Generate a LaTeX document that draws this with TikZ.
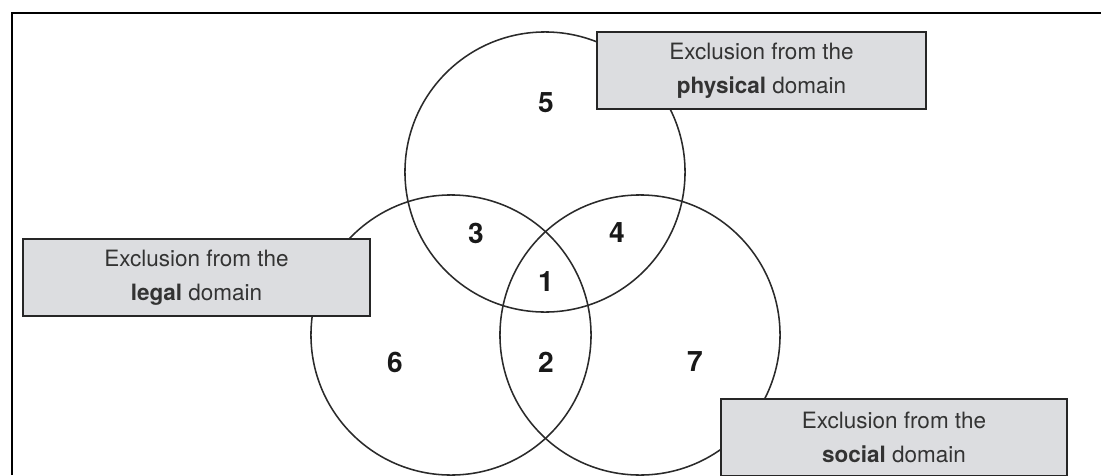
\documentclass[tikz,border=0pt]{standalone}
\usepackage{fontspec}
\setmainfont{TeX Gyre Heros}
\usepackage{tikz}
\definecolor{boxgray}{HTML}{DCDDE0}
\definecolor{inkgray}{HTML}{2A2A2A}

\begin{document}
\begin{tikzpicture}[x=0.025cm,y=-0.025cm,
                    domain circle/.style={circle,draw=inkgray,line width=1.1pt,minimum size=7cm,inner sep=0pt},
                    region/.style={font=\fontsize{20}{20}\selectfont\bfseries,text=black!90},
                    domain box/.style={rectangle,draw=black!85,line width=1.5pt,fill=boxgray,align=center,
                      minimum height=1.925cm,inner sep=0pt,text=black!80,font=\fontsize{16}{24}\selectfont}]

       \useasboundingbox (0,0) rectangle (1101,475);
       \draw[line width=1.4pt] (12,475) -- (12,12.7) -- (1101,12.7);

       % the three domains
       \node[domain circle] (physical) at (545,172) {};
       \node[domain circle] (legal) at (451,335) {};
       \node[domain circle] (social) at (640,335) {};

       % regions
       \node[region] (5) at (546,103) {5};
       \node[region] (3) at (476,233) {3};
       \node[region] (4) at (617,233) {4};
       \node[region] (1) at (546,282) {1};
       \node[region] (6) at (395,362) {6};
       \node[region] (2) at (546,362) {2};
       \node[region] (7) at (695,362) {7};

       % labels
       \node[domain box,minimum width=8.225cm] (physical box) at (761.5,70.5)
         {Exclusion from the\\\textbf{physical} domain};
       \node[domain box,minimum width=8.675cm] (legal box) at (196.5,277.5)
         {Exclusion from the\\\textbf{legal} domain};
       \node[domain box,minimum width=8.65cm] (social box) at (894,437.5)
         {Exclusion from the\\\textbf{social} domain};
     \end{tikzpicture}
\end{document}
